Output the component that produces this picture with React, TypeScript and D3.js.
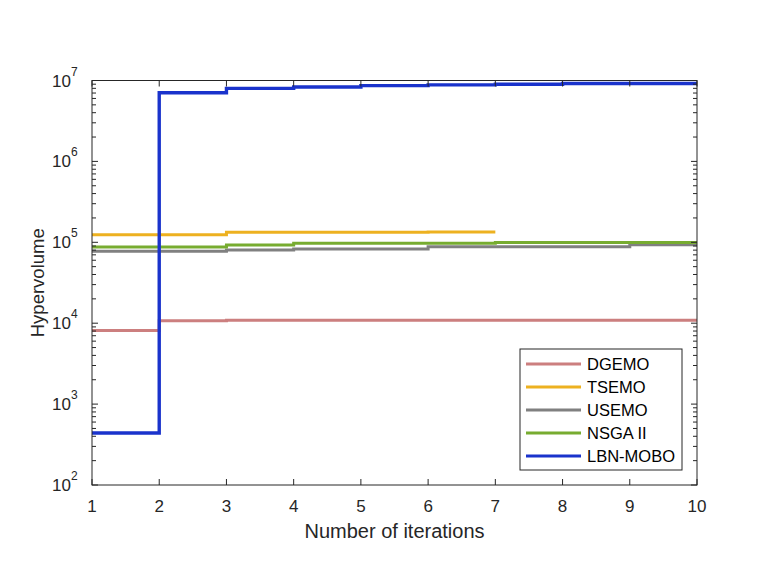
import React from "react";
import * as d3 from "d3";

const iterations = [1, 2, 3, 4, 5, 6, 7, 8, 9, 10];

const dgemo = [8100, 10700, 10900, 10900, 10900, 10900, 10900, 10900, 10900, 10900];
const tsemo = [124000, 124000, 133000, 133000, 133000, 134000, 134000];
const usemo = [77400, 77400, 80500, 82800, 82800, 88000, 88000, 88000, 93000, 93000];
const nsga2 = [87500, 87500, 92700, 97000, 97000, 97000, 99700, 99700, 99700, 99700];
const lbnMobo = [440, 7050000, 8000000, 8300000, 8640000, 8830000, 9000000, 9180000, 9180000, 9180000];

const seriesNames = ["DGEMO", "TSEMO", "USEMO", "NSGA II", "LBN-MOBO"];
const seriesValues = [dgemo, tsemo, usemo, nsga2, lbnMobo];
const seriesColors = ["#cc7f7f", "#edb120", "#808080", "#77ac30", "#1a33cc"];

const xTicks = [1, 2, 3, 4, 5, 6, 7, 8, 9, 10];
const yExponents = [2, 3, 4, 5, 6, 7];

const W = 761;
const H = 586;
const margin = { left: 92, right: 64, top: 80.5, bottom: 101 };
const axisColor = "#262626";
const font = "'Liberation Sans', Arial, Helvetica, sans-serif";

export default function App() {
  const x = d3.scaleLinear().domain([1, 10]).range([margin.left, W - margin.right]);
  const y = d3.scaleLog().domain([100, 1e7]).range([H - margin.bottom, margin.top]);

  const line = d3
    .line<number>()
    .x((_, i) => x(iterations[i]))
    .y((d) => y(d))
    .curve(d3.curveStepAfter);

  const x0 = x.range()[0];
  const x1 = x.range()[1];
  const y0 = y.range()[0];
  const y1 = y.range()[1];

  const minorTicks: number[] = [];
  yExponents.slice(0, -1).forEach((e) => {
    for (let k = 2; k <= 9; k++) minorTicks.push(k * Math.pow(10, e));
  });

  const legend = { x: 520, y: 349, w: 162, h: 121, row: 23 };

  return (
    <svg
      width={W}
      height={H}
      style={{ position: "absolute", left: 0, top: 0, background: "#fff" }}
      fontFamily={font}
    >
      <rect x={0} y={0} width={W} height={H} fill="#fff" />
      <defs>
        <clipPath id="plot">
          <rect x={x0} y={y1 - 3} width={x1 - x0 + 3} height={y0 - y1 + 3} />
        </clipPath>
      </defs>

      {/* series */}
      <g clipPath="url(#plot)">
        {seriesValues.map((vals, i) => (
          <path
            key={seriesNames[i]}
            d={line(vals) || ""}
            fill="none"
            stroke={seriesColors[i]}
            strokeWidth={i === 4 ? 3.4 : 3}
          />
        ))}
      </g>

      {/* box */}
      <rect x={x0} y={y1} width={x1 - x0} height={y0 - y1} fill="none" stroke={axisColor} strokeWidth={1} />

      {/* x ticks */}
      {xTicks.map((t) => (
        <g key={"xt" + t}>
          <line x1={x(t)} x2={x(t)} y1={y0} y2={y0 - 6} stroke={axisColor} />
          <line x1={x(t)} x2={x(t)} y1={y1} y2={y1 + 6} stroke={axisColor} />
          <text x={x(t)} y={y0 + 27} textAnchor="middle" fontSize={17} fill={axisColor}>
            {t}
          </text>
        </g>
      ))}

      {/* y ticks */}
      {yExponents.map((e) => {
        const yy = y(Math.pow(10, e));
        return (
          <g key={"yt" + e}>
            <line x1={x0} x2={x0 + 6} y1={yy} y2={yy} stroke={axisColor} />
            <line x1={x1} x2={x1 - 6} y1={yy} y2={yy} stroke={axisColor} />
            <text x={x0 - 21} y={yy + 6} textAnchor="end" fontSize={17} fill={axisColor}>
              10
            </text>
            <text x={x0 - 21} y={yy - 5} textAnchor="start" fontSize={12} fill={axisColor}>
              {e}
            </text>
          </g>
        );
      })}
      {minorTicks.map((v) => (
        <g key={"ym" + v}>
          <line x1={x0} x2={x0 + 4} y1={y(v)} y2={y(v)} stroke={axisColor} />
          <line x1={x1} x2={x1 - 4} y1={y(v)} y2={y(v)} stroke={axisColor} />
        </g>
      ))}

      {/* axis labels */}
      <text x={(x0 + x1) / 2} y={y0 + 53} textAnchor="middle" fontSize={20} fill={axisColor}>
        Number of iterations
      </text>
      <text
        transform={`translate(${44},${(y0 + y1) / 2}) rotate(-90)`}
        textAnchor="middle"
        fontSize={18.5}
        fill={axisColor}
      >
        Hypervolume
      </text>

      {/* legend */}
      <rect x={legend.x} y={legend.y} width={legend.w} height={legend.h} fill="#fff" stroke={axisColor} strokeWidth={1} />
      {seriesNames.map((name, i) => {
        const ly = legend.y + 15 + i * legend.row;
        return (
          <g key={"lg" + name}>
            <line x1={legend.x + 6} x2={legend.x + 61} y1={ly} y2={ly} stroke={seriesColors[i]} strokeWidth={3} />
            <text x={legend.x + 67} y={ly + 6} fontSize={16.5} fill="#000">
              {name}
            </text>
          </g>
        );
      })}
    </svg>
  );
}
